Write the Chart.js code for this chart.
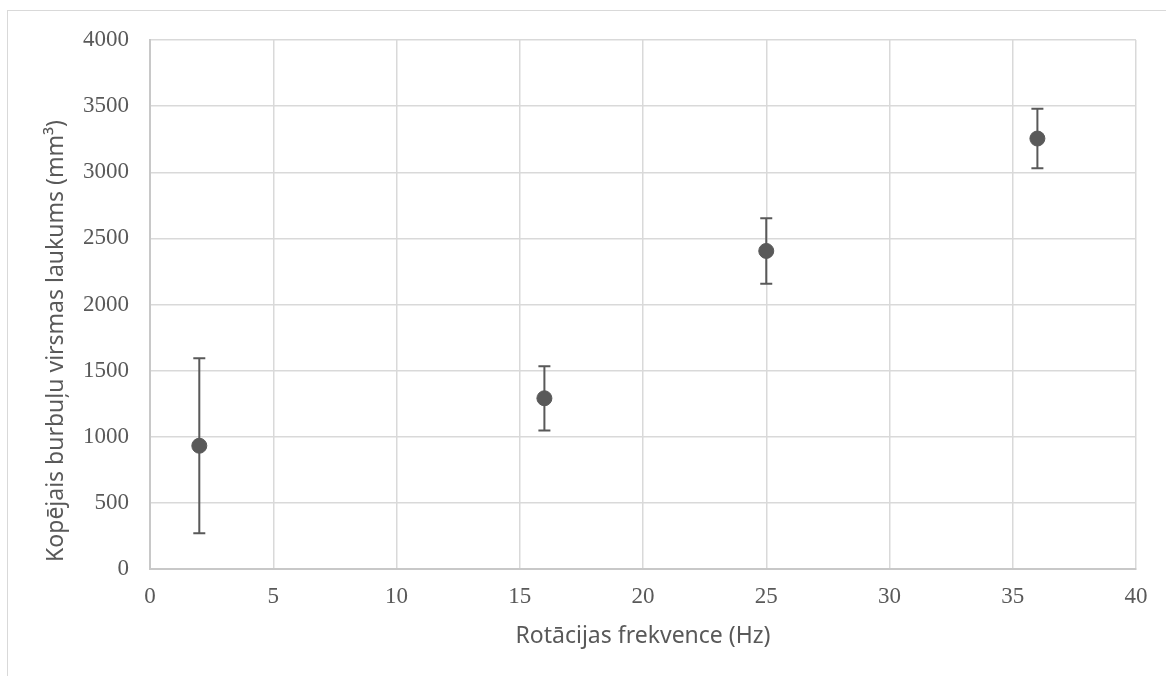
<!DOCTYPE html>
<html>
<head>
<meta charset="utf-8">
<script src="https://cdn.jsdelivr.net/npm/chart.js@4.4.1/dist/chart.umd.min.js"></script>
<style>
  html, body { margin: 0; padding: 0; background: #fff; overflow: hidden; }
  #wrap { position: relative; width: 1166px; height: 676px; }
  #frame { position: absolute; left: 7px; top: 10px; width: 1200px; height: 700px;
           border: 1.5px solid #d9d9d9; box-sizing: border-box; }
  canvas { position: absolute; left: 0; top: 0; }
</style>
</head>
<body>
<div id="wrap">
  <div id="frame"></div>
  <canvas id="chart" width="1166" height="676"></canvas>
</div>
<script>
// datos
const frequencies = [2, 16, 25, 36];          // Hz
const areas = [932, 1291, 2405, 3255];        // mm3
const errors = [662, 243, 248, 225];          // +/- desviación

const xTitle = 'Rotācijas frekvence (Hz)';
const yTitle = 'Kopējais burbuļu virsmas laukums (mm³)';

const grey = '#595959';
const gridColor = '#d9d9d9';
const titleFont = '23px "Noto Sans"';

// barras de error dibujadas con las escalas del gráfico
const errorBars = {
  id: 'errorBars',
  beforeDatasetsDraw(chart) {
    const { ctx, scales: { x, y } } = chart;
    ctx.save();
    ctx.strokeStyle = grey;
    ctx.lineWidth = 2;
    frequencies.forEach((f, i) => {
      const px = x.getPixelForValue(f);
      const top = y.getPixelForValue(areas[i] + errors[i]);
      const bot = y.getPixelForValue(areas[i] - errors[i]);
      ctx.beginPath();
      ctx.moveTo(px, top); ctx.lineTo(px, bot);
      ctx.moveTo(px - 6, top); ctx.lineTo(px + 6, top);
      ctx.moveTo(px - 6, bot); ctx.lineTo(px + 6, bot);
      ctx.stroke();
    });
    ctx.restore();
  }
};

// título del eje Y (en el original no está centrado en el eje)
const yAxisTitle = {
  id: 'yAxisTitle',
  afterDraw(chart) {
    const { ctx } = chart;
    ctx.save();
    ctx.translate(56, 341);
    ctx.rotate(-Math.PI / 2);
    ctx.font = titleFont;
    ctx.fillStyle = grey;
    ctx.textAlign = 'center';
    ctx.textBaseline = 'middle';
    ctx.fillText(yTitle, 0, 0);
    ctx.restore();
  }
};

const ctx = document.getElementById('chart').getContext('2d');
new Chart(ctx, {
  type: 'scatter',
  data: {
    datasets: [{
      data: frequencies.map((f, i) => ({ x: f, y: areas[i] })),
      backgroundColor: grey,
      borderColor: grey,
      pointRadius: 7.5,
      pointHoverRadius: 7.5,
    }]
  },
  options: {
    responsive: false,
    animation: false,
    layout: { padding: { left: 0, right: 30, top: 40, bottom: 0 } },
    plugins: { legend: { display: false }, tooltip: { enabled: false } },
    scales: {
      x: {
        type: 'linear',
        min: 0, max: 40,
        afterFit: (s) => { s.height = 676 - 569; },
        grid: { color: gridColor, lineWidth: 1.5, drawTicks: false },
        border: { color: '#c8c8c8', width: 2 },
        ticks: {
          stepSize: 5, padding: 14, color: grey,
          font: { family: 'Liberation Serif', size: 23 },
          callback: (v) => String(v),
        },
        title: {
          display: true, text: xTitle, color: grey,
          font: { family: 'Noto Sans', size: 23 },
          padding: { top: 0, bottom: 26 },
        },
      },
      y: {
        min: 0, max: 4000,
        afterFit: (s) => { s.width = 150; },
        grid: { color: gridColor, lineWidth: 1.5, drawTicks: false },
        border: { color: '#c8c8c8', width: 2 },
        ticks: {
          stepSize: 500, padding: 21, color: grey,
          font: { family: 'Liberation Serif', size: 23 },
          callback: (v) => String(v),
        },
      },
    },
  },
  plugins: [errorBars, yAxisTitle],
});
</script>
</body>
</html>
